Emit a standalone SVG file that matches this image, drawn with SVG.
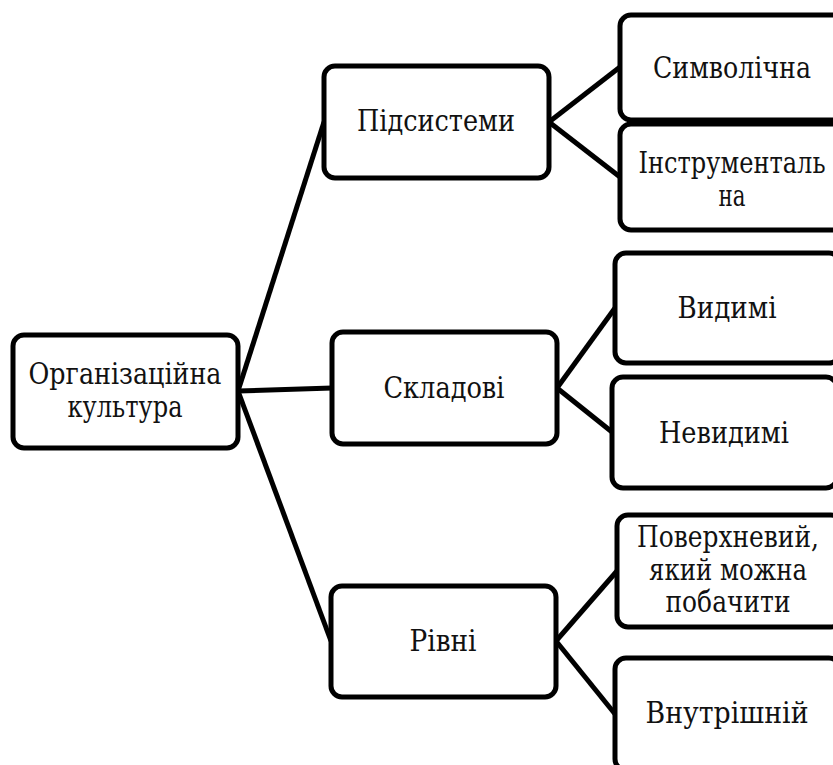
<svg xmlns="http://www.w3.org/2000/svg" width="833" height="765" viewBox="0 0 833 765">
<style>
.box{fill:#fff;stroke:#000;stroke-width:5}
.con{stroke:#000;stroke-width:5;fill:none}
.t{font-family:'DejaVu Serif','Liberation Serif',serif;font-size:29px;fill:#111;text-anchor:middle}
</style>
<rect width="833" height="765" fill="#fff"/>
<g id="connectors">
<line class="con" x1="238" y1="391" x2="324" y2="122"/>
<line class="con" x1="238" y1="391" x2="332" y2="388"/>
<line class="con" x1="238" y1="391" x2="331" y2="641"/>
<line class="con" x1="549" y1="122" x2="620" y2="67"/>
<line class="con" x1="549" y1="122" x2="620" y2="177"/>
<line class="con" x1="557" y1="388" x2="615" y2="308"/>
<line class="con" x1="557" y1="388" x2="612" y2="432"/>
<line class="con" x1="556" y1="641" x2="617" y2="571"/>
<line class="con" x1="556" y1="641" x2="615" y2="714"/>
</g>
<g id="root"><rect class="box" x="13" y="335" width="225" height="113" rx="11"/><text class="t" x="125" y="384" textLength="193" lengthAdjust="spacingAndGlyphs">Організаційна</text><text class="t" x="125" y="417" textLength="115" lengthAdjust="spacingAndGlyphs">культура</text></g>
<g id="pidsystemy"><rect class="box" x="324" y="66" width="225" height="112" rx="11"/><text class="t" x="436" y="131" textLength="158" lengthAdjust="spacingAndGlyphs">Підсистеми</text></g>
<g id="skladovi"><rect class="box" x="332" y="332" width="225" height="112" rx="11"/><text class="t" x="444" y="398" textLength="121" lengthAdjust="spacingAndGlyphs">Складові</text></g>
<g id="rivni"><rect class="box" x="331" y="586" width="225" height="111" rx="11"/><text class="t" x="443" y="651" textLength="67" lengthAdjust="spacingAndGlyphs">Рівні</text></g>
<g id="symvolichna"><rect class="box" x="620" y="15" width="225" height="105" rx="11"/><text class="t" x="732" y="78" textLength="158" lengthAdjust="spacingAndGlyphs">Символічна</text></g>
<g id="instrumentalna"><rect class="box" x="620" y="124" width="225" height="106" rx="11"/><text class="t" x="732" y="173" textLength="187" lengthAdjust="spacingAndGlyphs">Інструменталь</text><text class="t" x="732" y="206" textLength="27" lengthAdjust="spacingAndGlyphs">на</text></g>
<g id="vydymi"><rect class="box" x="615" y="253" width="225" height="110" rx="11"/><text class="t" x="727" y="318" textLength="99" lengthAdjust="spacingAndGlyphs">Видимі</text></g>
<g id="nevydymi"><rect class="box" x="612" y="377" width="225" height="111" rx="11"/><text class="t" x="724" y="443" textLength="130" lengthAdjust="spacingAndGlyphs">Невидимі</text></g>
<g id="poverkhnevyi"><rect class="box" x="617" y="515" width="225" height="112" rx="11"/><text class="t" x="728" y="547" textLength="182" lengthAdjust="spacingAndGlyphs">Поверхневий,</text><text class="t" x="728" y="580" textLength="158" lengthAdjust="spacingAndGlyphs">який можна</text><text class="t" x="728" y="612" textLength="125" lengthAdjust="spacingAndGlyphs">побачити</text></g>
<g id="vnutrishnii"><rect class="box" x="615" y="658" width="225" height="112" rx="11"/><text class="t" x="727" y="723" textLength="163" lengthAdjust="spacingAndGlyphs">Внутрішній</text></g>
</svg>
